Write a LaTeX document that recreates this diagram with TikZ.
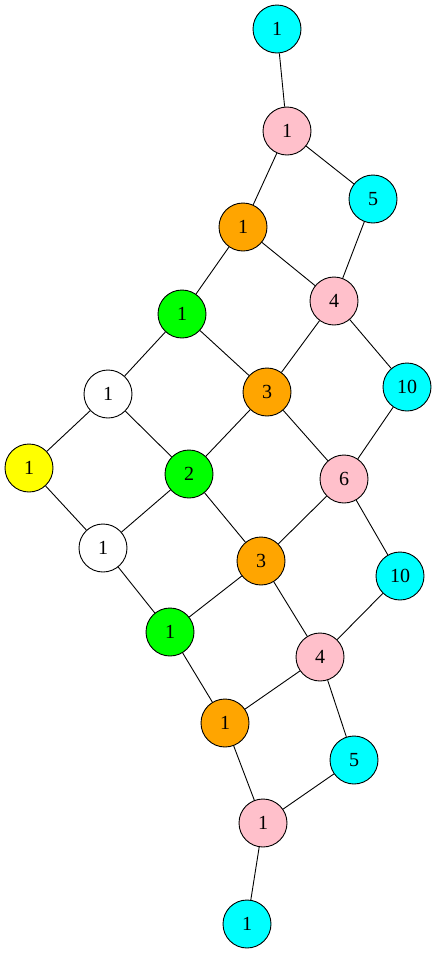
\documentclass[tikz,border=0pt]{standalone}
\usepackage{fontspec}
\setmainfont{Liberation Serif}
\usepackage{tikz}
\definecolor{vcyan}{RGB}{0,255,255}
\definecolor{vpink}{RGB}{255,192,203}
\definecolor{vorange}{RGB}{255,165,0}
\definecolor{vgreen}{RGB}{0,255,0}
\definecolor{vyellow}{RGB}{255,255,0}
\tikzset{
  vert/.style={circle,draw=black,line width=0.9pt,minimum size=48pt,inner sep=0pt,
    font=\fontsize{20}{22}\selectfont},
  edge/.style={black,line width=0.9pt}
}
\begin{document}
\begin{tikzpicture}[x=1pt,y=-1pt]
\useasboundingbox (0,0) rectangle (437,954);
% vertices
\node[vert,fill=vcyan]   (a) at (277,29)  {1};
\node[vert,fill=vpink]   (b) at (287,131) {1};
\node[vert,fill=vcyan]   (c) at (373,199) {5};
\node[vert,fill=vorange] (d) at (243,227) {1};
\node[vert,fill=vpink]   (e) at (334,301) {4};
\node[vert,fill=vgreen]  (f) at (182,314) {1};
\node[vert,fill=vcyan]   (g) at (407,387) {10};
\node[vert,fill=white]   (h) at (108,394) {1};
\node[vert,fill=vorange] (i) at (267,392) {3};
\node[vert,fill=vyellow] (j) at (29,468)  {1};
\node[vert,fill=vgreen]  (k) at (189,474) {2};
\node[vert,fill=vpink]   (l) at (344,479) {6};
\node[vert,fill=white]   (m) at (103,548) {1};
\node[vert,fill=vorange] (n) at (261,561) {3};
\node[vert,fill=vcyan]   (o) at (400,576) {10};
\node[vert,fill=vgreen]  (p) at (170,632) {1};
\node[vert,fill=vpink]   (q) at (320,657) {4};
\node[vert,fill=vorange] (r) at (225,723) {1};
\node[vert,fill=vcyan]   (s) at (354,760) {5};
\node[vert,fill=vpink]   (t) at (263,823) {1};
\node[vert,fill=vcyan]   (u) at (247,924) {1};
% edges
\foreach \from/\to in {a/b,b/c,b/d,d/f,d/e,c/e,e/i,e/g,f/h,f/i,h/j,h/k,i/k,i/l,g/l,
  j/m,k/m,k/n,l/n,l/o,m/p,n/p,n/q,o/q,p/r,q/r,q/s,r/t,s/t,t/u}
  \draw[edge] (\from) -- (\to);
\end{tikzpicture}
\end{document}
